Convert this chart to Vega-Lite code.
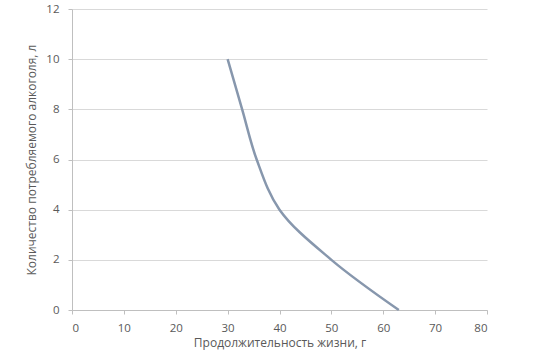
{
  "$schema": "https://vega.github.io/schema/vega-lite/v6.json",
  "autosize": {"type": "none"},
  "padding": {"left": 72, "top": 9, "right": 61, "bottom": 41},
  "width": 415,
  "height": 301,
  "background": "white",
  "config": {
    "view": {"stroke": null},
    "font": "Open Sans",
    "axis": {
      "labelFont": "Open Sans",
      "titleFont": "Open Sans",
      "labelFontSize": 11.5,
      "titleFontSize": 12,
      "labelColor": "#595959",
      "titleColor": "#595959",
      "titleFontWeight": "normal",
      "domainColor": "#BFBFBF",
      "tickColor": "#BFBFBF",
      "gridColor": "#D9D9D9",
      "domainWidth": 1,
      "tickWidth": 1,
      "tickSize": 4
    }
  },
  "data": {
    "values": [
      {"life": 30, "alcohol": 10},
      {"life": 32.8, "alcohol": 8},
      {"life": 35.6, "alcohol": 6},
      {"life": 40, "alcohol": 4},
      {"life": 50, "alcohol": 2},
      {"life": 63, "alcohol": 0}
    ]
  },
  "mark": {"type": "line", "interpolate": "catmull-rom", "color": "#8797AD", "strokeWidth": 2.5},
  "encoding": {
    "x": {
      "field": "life",
      "type": "quantitative",
      "scale": {"domain": [0, 80], "nice": false, "zero": false},
      "axis": {
        "values": [0, 10, 20, 30, 40, 50, 60, 70, 80],
        "grid": false,
        "title": "Продолжительность жизни, г",
        "labelPadding": 8,
        "titlePadding": 4
      }
    },
    "y": {
      "field": "alcohol",
      "type": "quantitative",
      "scale": {"domain": [0, 12], "nice": false},
      "axis": {
        "values": [0, 2, 4, 6, 8, 10, 12],
        "grid": true,
        "title": "Количество потребляемого алкоголя, л",
        "labelPadding": 9,
        "titlePadding": 7
      }
    }
  }
}
